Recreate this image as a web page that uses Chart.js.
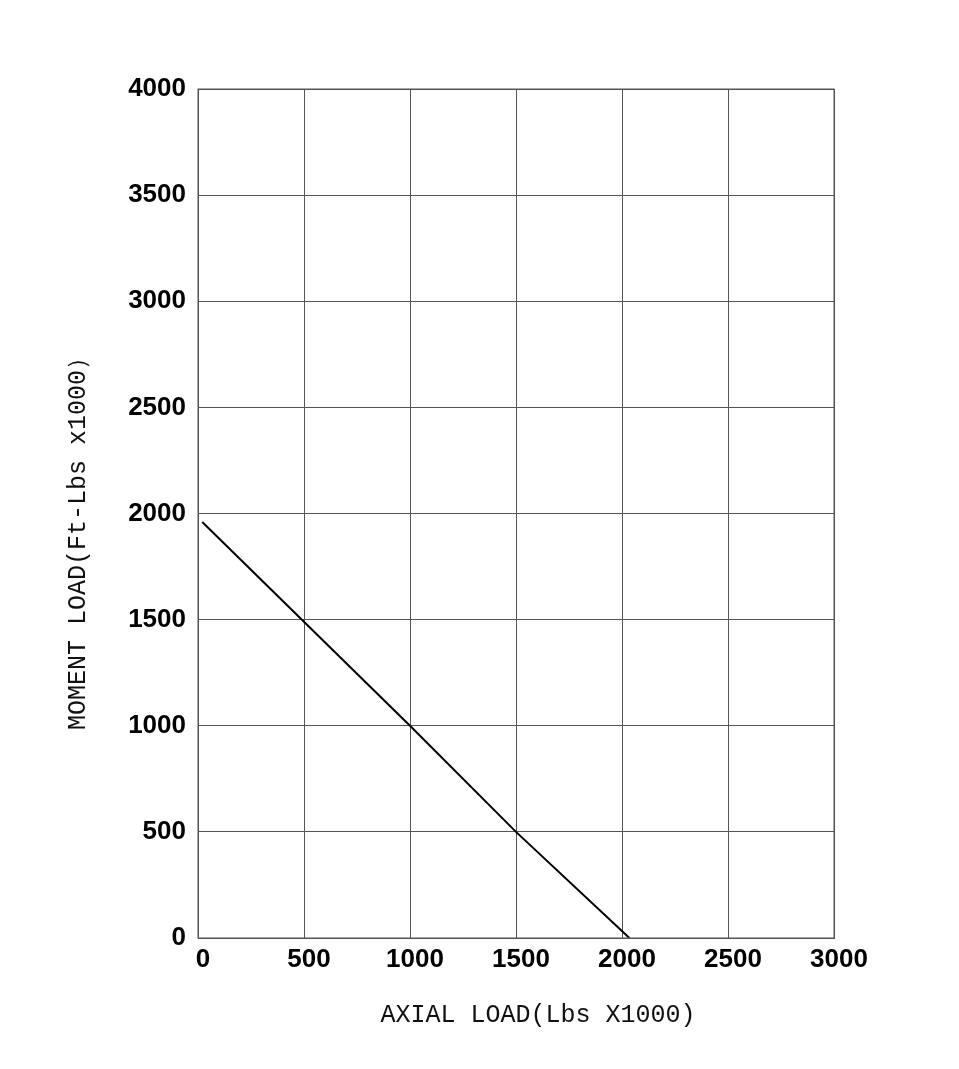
<!doctype html>
<html lang="en">
  <head>
    <meta charset="utf-8">
    <title>Moment load vs axial load</title>
    <script src="https://cdn.jsdelivr.net/npm/chart.js@4.4.1/dist/chart.umd.min.js"></script>
    <style>
      html, body { margin: 0; padding: 0; background: #fff; }
      #wrap { width: 959px; height: 1069px; }
    </style>
  </head>
  <body>
    <div id="wrap"><canvas id="loadChart" width="959" height="1069"></canvas></div>

    <script>
        const axialLoad = [20, 1000, 1500, 2035];
        const momentLoad = [1960, 1000, 500, 0];
        const xTicks = [0, 500, 1000, 1500, 2000, 2500, 3000];
        const yTicks = [0, 500, 1000, 1500, 2000, 2500, 3000, 3500, 4000];
        const xTitle = 'AXIAL LOAD(Lbs X1000)';
        const yTitle = 'MOMENT LOAD(Ft-Lbs x1000）';

        const points = axialLoad.map(function (x, i) { return { x: x, y: momentLoad[i] }; });

        const tickFont = { family: '"Liberation Sans Narrow", "Liberation Sans", Arial', size: 26, weight: 'bold' };
        const titleFont = '25px "Liberation Mono", "DejaVu Sans Mono", monospace';
        const gridColor = '#555';

        const ctx = document.getElementById('loadChart').getContext('2d');
        new Chart(ctx, {
            type: 'scatter',
            data: {
                datasets: [{
                    data: points,
                    showLine: true,
                    borderColor: '#000',
                    borderWidth: 2,
                    pointRadius: 0,
                    tension: 0
                }]
            },
            options: {
                responsive: false,
                animation: false,
                layout: { padding: { top: 89, right: 125, left: 60, bottom: 35 } },
                plugins: { legend: { display: false }, tooltip: { enabled: false } },
                scales: {
                    x: {
                        type: 'linear',
                        min: 0,
                        max: 3000,
                        afterBuildTicks: function (scale) { scale.ticks = xTicks.map(function (v) { return { value: v }; }); },
                        afterFit: function (scale) { scale.height = 96; },
                        grid: { color: gridColor, lineWidth: 1, drawTicks: false },
                        border: { color: gridColor, width: 1 },
                        ticks: {
                            color: '#000', font: tickFont, padding: 6, labelOffset: 5, maxRotation: 0, autoSkip: false,
                            callback: function (v) { return String(v); }
                        }
                    },
                    y: {
                        type: 'linear',
                        min: 0,
                        max: 4000,
                        afterBuildTicks: function (scale) { scale.ticks = yTicks.map(function (v) { return { value: v }; }); },
                        afterFit: function (scale) { scale.width = 138; },
                        grid: { color: gridColor, lineWidth: 1, drawTicks: false },
                        border: { color: gridColor, width: 1 },
                        ticks: {
                            color: '#000', font: tickFont, padding: 12, autoSkip: false,
                            callback: function (v) { return String(v); }
                        }
                    }
                }
            },
            plugins: [{
                // plot frame + axis titles (titles sit a bit off-centre in the original)
                id: 'frameAndTitles',
                afterDraw: function (chart) {
                    const a = chart.chartArea;
                    const c = chart.ctx;
                    c.save();
                    c.strokeStyle = gridColor;
                    c.lineWidth = 1;
                    c.strokeRect(a.left, a.top, a.right - a.left, a.bottom - a.top);

                    c.fillStyle = '#111';
                    c.font = titleFont;
                    c.textAlign = 'center';
                    c.textBaseline = 'middle';
                    c.fillText(xTitle, (a.left + a.right) / 2 + 22, a.bottom + 77);

                    c.translate(a.left - 120, (a.top + a.bottom) / 2 + 24);
                    c.rotate(-Math.PI / 2);
                    c.fillText(yTitle, 0, 0);
                    c.restore();
                }
            }]
        });
    </script>
  </body>
</html>
